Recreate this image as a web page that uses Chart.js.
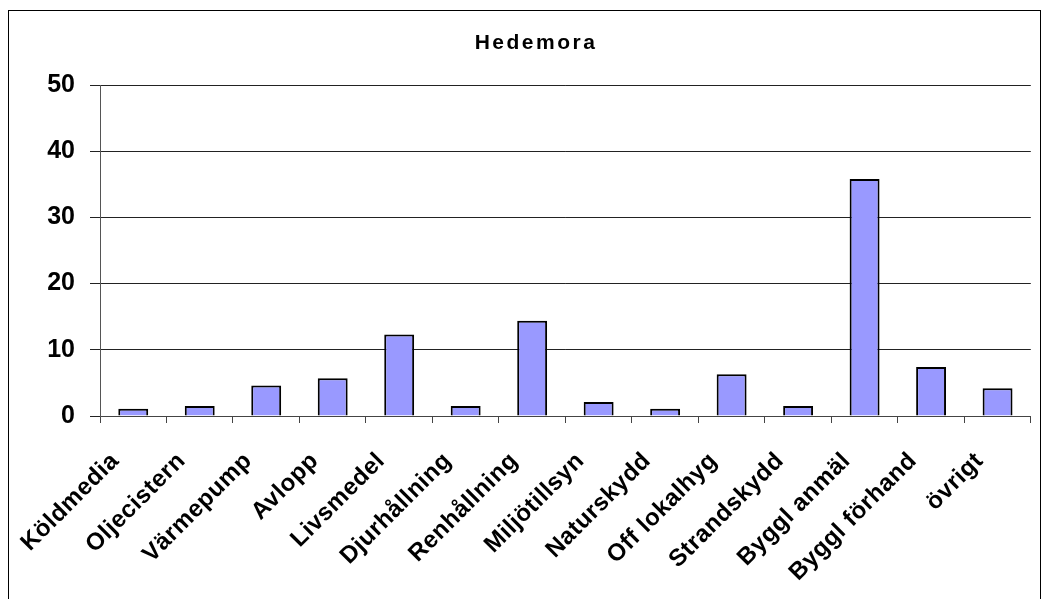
<!DOCTYPE html>
<html>
<head>
<meta charset="utf-8">
<script src="https://cdn.jsdelivr.net/npm/chart.js@4/dist/chart.umd.min.js"></script>
<style>
  html, body { margin: 0; padding: 0; background: #fff; }
  #wrap { width: 1042px; height: 599px; }
</style>
</head>
<body>
<div id="wrap"><canvas id="myChart" width="1042" height="599"></canvas></div>
<script>
// chart data
const chartTitle = 'Hedemora';
const categories = ['Köldmedia', 'Oljecistern', 'Värmepump', 'Avlopp', 'Livsmedel', 'Djurhållning', 'Renhållning',
  'Miljötillsyn', 'Naturskydd', 'Off lokalhyg', 'Strandskydd', 'Byggl anmäl', 'Byggl förhand', 'övrigt'];
const values = [1.1, 1.5, 4.6, 5.7, 12.3, 1.5, 14.4, 2.1, 1.1, 6.3, 1.5, 35.8, 7.4, 4.2];
const yTicks = [0, 10, 20, 30, 40, 50];

const FONT = '"Liberation Sans", Arial, sans-serif';

// white background, outer frame and the (letter-spaced) title
const framePlugin = {
    id: 'frame',
    beforeDraw(chart) {
        const ctx = chart.ctx;
        ctx.save();
        ctx.fillStyle = '#fff';
        ctx.fillRect(0, 0, chart.width, chart.height);
        ctx.strokeStyle = '#000';
        ctx.lineWidth = 1;
        ctx.strokeRect(8.5, 10.5, 1032, 600);
        ctx.restore();
    },
    afterDraw(chart) {
        const ctx = chart.ctx;
        ctx.save();
        ctx.font = 'bold 21px ' + FONT;
        ctx.letterSpacing = '2.5px';
        ctx.fillStyle = '#000';
        ctx.textAlign = 'center';
        ctx.textBaseline = 'middle';
        ctx.fillText(chartTitle, 536, 43);
        ctx.restore();
    }
};

// wrap a scale's label drawing so the text gets some extra letter spacing
function spaceLabels(scale, spacing) {
    if (scale._spaced) return;
    scale._spaced = true;
    const orig = scale.drawLabels.bind(scale);
    scale.drawLabels = function (area) {
        const ctx = scale.ctx;
        ctx.save();
        ctx.letterSpacing = spacing;
        orig(area);
        ctx.restore();
    };
}

function createChart() {
    const ctx = document.getElementById('myChart').getContext('2d');
    new Chart(ctx, {
        type: 'bar',
        data: {
            labels: categories,
            datasets: [{
                data: values,
                backgroundColor: '#9999ff',
                borderColor: '#000',
                borderWidth: 2,
                barPercentage: 0.45,
                categoryPercentage: 1
            }]
        },
        options: {
            responsive: false,
            animation: false,
            layout: { padding: { left: 0, right: 2, top: 85, bottom: 0 } },
            plugins: {
                legend: { display: false },
                tooltip: { enabled: false },
                title: { display: false }
            },
            scales: {
                x: {
                    grid: { offset: true, drawOnChartArea: false, drawTicks: true, tickLength: 7, color: '#444' },
                    border: { color: '#444', width: 1 },
                    ticks: {
                        color: '#000',
                        font: { family: FONT, size: 24, weight: 'bold' },
                        maxRotation: 45, minRotation: 45,
                        padding: 24,
                        labelOffset: -18,
                        autoSkip: false
                    },
                    afterFit(scale) { scale.height = 183; spaceLabels(scale, '0.5px'); }
                },
                y: {
                    min: 0, max: 50,
                    afterBuildTicks(scale) { scale.ticks = yTicks.map(v => ({ value: v })); },
                    grid: { color: '#222', lineWidth: 1, tickLength: 10 },
                    border: { color: '#555', width: 1 },
                    ticks: {
                        color: '#000',
                        font: { family: FONT, size: 25, weight: 'bold' },
                        padding: 15
                    },
                    afterFit(scale) { scale.width = 100; }
                }
            }
        },
        plugins: [framePlugin]
    });
}

window.onload = createChart;
</script>
</body>
</html>
